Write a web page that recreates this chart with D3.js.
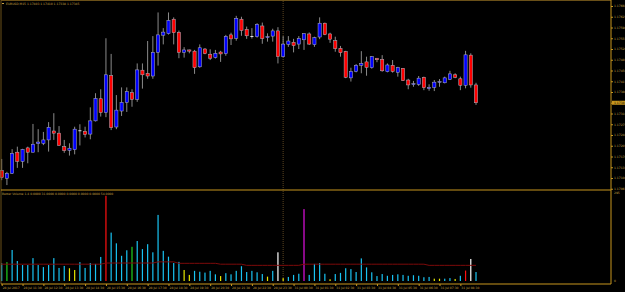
<!DOCTYPE html>
<html>
<head>
<meta charset="utf-8">
<script src="https://cdn.jsdelivr.net/npm/d3@7/dist/d3.min.js"></script>
<style>
  html, body { margin: 0; padding: 0; background: #000; overflow: hidden; }
  svg { display: block; }
  text { font-family: "DejaVu Sans", sans-serif; }
</style>
</head>
<body>
<script>
// EURUSD M15, 28 Jul 2017 10:30 -> 31 Jul 2017 08:45 (server time)
const symbol = 'EURUSD,M15';

const open = [
  1.17124, 1.17099, 1.17115, 1.17184, 1.17154, 1.17198, 1.17184, 1.17212, 1.17213, 1.17224,
  1.17253, 1.17246, 1.17202, 1.17190, 1.17192, 1.17255, 1.17252, 1.17243, 1.17286, 1.17358,
  1.17313, 1.17433, 1.17266, 1.17318, 1.17346, 1.17378, 1.17356, 1.17451, 1.17441, 1.17432,
  1.17509, 1.17565, 1.17570, 1.17617, 1.17574, 1.17509, 1.17517, 1.17513, 1.17462, 1.17520,
  1.17503, 1.17492, 1.17510, 1.17505, 1.17566, 1.17555, 1.17617, 1.17584, 1.17562, 1.17560,
  1.17595, 1.17557, 1.17562, 1.17579, 1.17495, 1.17535, 1.17542, 1.17536, 1.17550, 1.17569,
  1.17534, 1.17559, 1.17604, 1.17569, 1.17547, 1.17522, 1.17512, 1.17426, 1.17447, 1.17467,
  1.17478, 1.17459, 1.17490, 1.17486, 1.17446, 1.17467, 1.17444, 1.17457, 1.17419, 1.17404,
  1.17405, 1.17428, 1.17391, 1.17395, 1.17412, 1.17410, 1.17421, 1.17436, 1.17423, 1.17402,
  1.17500, 1.17403
];
const high = [
  1.17162, 1.17120, 1.17194, 1.17202, 1.17195, 1.17202, 1.17276, 1.17259, 1.17250, 1.17282,
  1.17311, 1.17269, 1.17224, 1.17213, 1.17267, 1.17275, 1.17267, 1.17330, 1.17376, 1.17389,
  1.17555, 1.17504, 1.17370, 1.17395, 1.17395, 1.17389, 1.17473, 1.17473, 1.17546, 1.17562,
  1.17639, 1.17588, 1.17639, 1.17623, 1.17580, 1.17526, 1.17518, 1.17517, 1.17535, 1.17523,
  1.17519, 1.17517, 1.17514, 1.17566, 1.17573, 1.17628, 1.17625, 1.17593, 1.17588, 1.17604,
  1.17606, 1.17571, 1.17586, 1.17591, 1.17562, 1.17562, 1.17553, 1.17562, 1.17571, 1.17574,
  1.17560, 1.17623, 1.17606, 1.17573, 1.17560, 1.17530, 1.17514, 1.17459, 1.17471, 1.17513,
  1.17495, 1.17497, 1.17490, 1.17500, 1.17473, 1.17484, 1.17462, 1.17458, 1.17423, 1.17416,
  1.17432, 1.17430, 1.17405, 1.17419, 1.17422, 1.17430, 1.17449, 1.17441, 1.17430, 1.17514,
  1.17506, 1.17410
];
const low = [
  1.17093, 1.17077, 1.17113, 1.17133, 1.17133, 1.17148, 1.17183, 1.17184, 1.17207, 1.17186,
  1.17224, 1.17205, 1.17182, 1.17173, 1.17177, 1.17206, 1.17232, 1.17226, 1.17284, 1.17300,
  1.17298, 1.17256, 1.17259, 1.17302, 1.17315, 1.17332, 1.17348, 1.17391, 1.17423, 1.17423,
  1.17466, 1.17535, 1.17567, 1.17535, 1.17490, 1.17492, 1.17506, 1.17439, 1.17459, 1.17503,
  1.17484, 1.17489, 1.17478, 1.17498, 1.17533, 1.17547, 1.17563, 1.17553, 1.17554, 1.17557,
  1.17537, 1.17544, 1.17544, 1.17473, 1.17493, 1.17527, 1.17509, 1.17520, 1.17517, 1.17533,
  1.17527, 1.17552, 1.17565, 1.17540, 1.17511, 1.17495, 1.17425, 1.17414, 1.17444, 1.17441,
  1.17433, 1.17456, 1.17477, 1.17446, 1.17444, 1.17443, 1.17430, 1.17416, 1.17389, 1.17397,
  1.17400, 1.17386, 1.17384, 1.17383, 1.17397, 1.17408, 1.17419, 1.17425, 1.17386, 1.17392,
  1.17394, 1.17338
];
const close = [
  1.17102, 1.17115, 1.17180, 1.17154, 1.17193, 1.17184, 1.17210, 1.17217, 1.17224, 1.17265,
  1.17246, 1.17206, 1.17189, 1.17197, 1.17259, 1.17255, 1.17242, 1.17286, 1.17359, 1.17313,
  1.17436, 1.17264, 1.17321, 1.17346, 1.17381, 1.17356, 1.17452, 1.17436, 1.17432, 1.17509,
  1.17566, 1.17575, 1.17613, 1.17573, 1.17509, 1.17517, 1.17513, 1.17459, 1.17524, 1.17505,
  1.17490, 1.17506, 1.17504, 1.17561, 1.17553, 1.17620, 1.17580, 1.17563, 1.17562, 1.17600,
  1.17554, 1.17560, 1.17579, 1.17495, 1.17536, 1.17546, 1.17531, 1.17554, 1.17570, 1.17536,
  1.17557, 1.17604, 1.17567, 1.17552, 1.17521, 1.17508, 1.17428, 1.17447, 1.17467, 1.17473,
  1.17460, 1.17495, 1.17485, 1.17449, 1.17468, 1.17447, 1.17460, 1.17417, 1.17403, 1.17407,
  1.17425, 1.17394, 1.17395, 1.17412, 1.17414, 1.17426, 1.17439, 1.17428, 1.17402, 1.17501,
  1.17403, 1.17345
];

// Better Volume 1.4: tick volume, bar class and the average line
const volume = [
  61, 65, 107, 69, 55, 55, 79, 55, 48, 55,
  79, 45, 52, 44, 38, 65, 45, 62, 59, 83,
  294, 167, 130, 87, 106, 118, 138, 110, 127, 99,
  228, 104, 84, 62, 66, 38, 21, 35, 32, 29,
  35, 23, 17, 27, 23, 35, 51, 31, 35, 30,
  24, 15, 35, 99, 10, 14, 21, 25, 248, 21,
  59, 62, 25, 6, 24, 28, 44, 41, 31, 78,
  47, 30, 17, 24, 18, 21, 23, 21, 18, 20,
  18, 13, 14, 8, 8, 8, 10, 7, 18, 36,
  76, 31
];
// b = normal, y = low volume, g = high churn, r = climax up, w = climax down, m = climax churn
const volumeType = [
  'b','g','b','b','b','b','b','b','b','b',
  'b','b','b','y','y','b','b','b','b','b',
  'r','b','b','b','b','g','b','b','b','b',
  'b','b','b','b','b','y','y','b','b','b',
  'b','b','y','b','b','b','b','b','b','b',
  'b','y','b','w','y','b','b','b','m','b',
  'b','b','b','y','b','b','b','b','b','b',
  'b','b','b','b','b','b','b','b','b','b',
  'b','b','b','y','y','b','b','y','b','r',
  'w','b'
];
const volumeAvg = [
  58, 58, 58, 58, 58, 58, 58, 58, 58, 58,
  58, 58, 58, 58, 58, 58, 58, 58, 58, 58,
  62, 62, 62, 62, 62, 62, 62, 62, 62, 62,
  66, 66, 66, 66, 61, 61, 61, 61, 61, 61,
  61, 61, 58, 58, 58, 58, 58, 54, 54, 54,
  54, 54, 54, 54, 54, 54, 54, 54, 58, 58,
  58, 58, 58, 58, 58, 58, 58, 58, 58, 58,
  58, 58, 58, 58, 58, 58, 58, 58, 58, 58,
  58, 58, 54, 54, 54, 54, 54, 54, 54, 54,
  54, 54
];

const priceTicks = [
  '1.17660', '1.17625', '1.17590', '1.17555', '1.17520', '1.17485', '1.17450', '1.17415', '1.17380',
  '1.17345', '1.17310', '1.17275', '1.17240', '1.17205', '1.17170', '1.17135', '1.17100', '1.17065'
];
const timeTickBars = [0, 4, 8, 12, 16, 20, 24, 28, 32, 36, 40, 44, 48, 52, 56, 60, 64, 68, 72, 76, 80, 84, 88];
const timeLabels = [
  '28 Jul 2017', '28 Jul 11:30', '28 Jul 12:30', '28 Jul 13:30', '28 Jul 14:30', '28 Jul 15:30',
  '28 Jul 16:30', '28 Jul 17:30', '28 Jul 18:30', '28 Jul 19:30', '28 Jul 20:30', '28 Jul 21:30',
  '28 Jul 22:30', '28 Jul 23:30', '31 Jul 00:30', '31 Jul 01:30', '31 Jul 02:30', '31 Jul 03:30',
  '31 Jul 04:30', '31 Jul 05:30', '31 Jul 06:30', '31 Jul 07:30', '31 Jul 08:30'
];
const separatorBar = 54;   // first bar of 31 Jul
const volumeTicks = ['295', '0'];

// ---- layout ----
const W = 625, H = 292;
const left = 1, right = 611;
const mainBottom = 190, subBottom = 284;
const frame = '#c8961e', frameDim = '#6a5018', label = '#c8a040';
const volColor = { b: '#19c3f2', y: '#e6e600', g: '#1ed21e', r: '#ff1010', w: '#ffffff', m: '#e010e0' };

const svg = d3.select('body').append('svg').attr('width', W).attr('height', H);
svg.append('rect').attr('width', W).attr('height', H).attr('fill', '#000');

const n = open.length;
const x = d3.scaleLinear().domain([0, n - 1]).range([1.7, 476]);
const y = d3.scaleLinear().domain([+priceTicks[priceTicks.length - 1], +priceTicks[0]]).range([188.75, 6]);
const yv = d3.scaleLinear().domain([0, +volumeTicks[0]]).range([281, 195.5]);

// period separator
svg.append('line')
  .attr('x1', x(separatorBar)).attr('x2', x(separatorBar))
  .attr('y1', 1).attr('y2', subBottom)
  .attr('stroke', '#5a4420').attr('stroke-width', 1).attr('stroke-dasharray', '1,1');

// ---- candles ----
const bars = d3.range(n);
const g = svg.append('g').attr('class', 'candles');

g.selectAll('.wick').data(bars).join('line')
  .attr('class', 'wick')
  .attr('x1', i => x(i)).attr('x2', i => x(i))
  .attr('y1', i => y(high[i])).attr('y2', i => y(low[i]))
  .attr('stroke', '#9a9a9a').attr('stroke-width', 0.9);

g.selectAll('.body').data(bars).join('rect')
  .attr('class', 'body')
  .attr('x', i => x(i) - 1.6)
  .attr('width', 3.2)
  .attr('y', i => y(Math.max(open[i], close[i])))
  .attr('height', i => Math.max(0.8, Math.abs(y(open[i]) - y(close[i]))))
  .attr('fill', i => close[i] > open[i] ? '#0000ff' : close[i] < open[i] ? '#ff0000' : '#ffffff')
  .attr('stroke', i => close[i] === open[i] ? 'none' : '#b4b4c4')
  .attr('stroke-width', 0.5);

// ---- volume ----
const vg = svg.append('g').attr('class', 'volume');
vg.selectAll('rect').data(bars).join('rect')
  .attr('x', i => x(i) - 0.6)
  .attr('width', 1.2)
  .attr('y', i => yv(volume[i]))
  .attr('height', i => yv(0) - yv(volume[i]))
  .attr('fill', i => volColor[volumeType[i]]);

vg.append('path')
  .datum(bars)
  .attr('d', d3.line().x(i => i === 0 ? left : x(i)).y(i => yv(volumeAvg[i])))
  .attr('fill', 'none').attr('stroke', '#7c0a0a').attr('stroke-width', 1);

// ---- frame ----
svg.append('line').attr('x1', left).attr('x2', right).attr('y1', 0.5).attr('y2', 0.5).attr('stroke', frameDim);
svg.append('line').attr('x1', left).attr('x2', left).attr('y1', 0).attr('y2', subBottom).attr('stroke', frameDim);
svg.append('line').attr('x1', left).attr('x2', right).attr('y1', mainBottom).attr('y2', mainBottom).attr('stroke', frame);
svg.append('line').attr('x1', left).attr('x2', right).attr('y1', subBottom).attr('y2', subBottom).attr('stroke', frame);
svg.append('line').attr('x1', right).attr('x2', right).attr('y1', 0).attr('y2', subBottom).attr('stroke', frame);

// ---- price axis ----
const priceAxis = svg.append('g')
  .attr('transform', `translate(${right},0)`)
  .call(d3.axisRight(y).tickValues(priceTicks.map(Number)).tickFormat(d3.format('.5f')).tickSize(2).tickPadding(1));
priceAxis.select('.domain').remove();
priceAxis.selectAll('line').attr('stroke', frame);
priceAxis.selectAll('text').attr('fill', label).attr('font-size', 3).attr('font-family', '"DejaVu Sans", sans-serif');

// current bid
const bid = close[n - 1];
svg.append('rect').attr('x', right + 1).attr('y', y(bid) - 2).attr('width', 13).attr('height', 4).attr('fill', frame);
svg.append('text').attr('x', right + 3).attr('y', y(bid) + 1.1).attr('font-size', 3).attr('fill', '#000')
  .text(d3.format('.5f')(bid));

// volume axis labels
svg.append('text').attr('x', right + 3).attr('y', 194).attr('font-size', 3).attr('fill', label).text(volumeTicks[0]);
svg.append('text').attr('x', right + 3).attr('y', 282).attr('font-size', 3).attr('fill', label).text(volumeTicks[1]);

// ---- time axis ----
const timeAxis = svg.append('g')
  .attr('transform', `translate(0,${subBottom})`)
  .call(d3.axisBottom(x).tickValues(timeTickBars).tickFormat((d, i) => timeLabels[i]).tickSize(2).tickPadding(1));
timeAxis.select('.domain').remove();
timeAxis.selectAll('line').attr('stroke', frame);
timeAxis.selectAll('text')
  .attr('fill', label).attr('font-size', 3).attr('text-anchor', 'start').attr('dx', 0.5)
  .attr('font-family', '"DejaVu Sans", sans-serif');

// ---- window titles ----
const f5 = d3.format('.5f');
svg.append('rect').attr('x', 2).attr('y', 3).attr('width', 2).attr('height', 1).attr('fill', label);
svg.append('text').attr('x', 6).attr('y', 5).attr('font-size', 3).attr('fill', label)
  .text(`${symbol}  ${f5(open[n - 1])} ${f5(high[n - 1])} ${f5(low[n - 1])} ${f5(close[n - 1])}`);

const f4 = d3.format('.4f');
const last = n - 1;
const buf = ['r', 'b', 'y', 'g', 'w', 'm'].map(t => volumeType[last] === t ? volume[last] : 0);
svg.append('text').attr('x', 2).attr('y', 194.5).attr('font-size', 3).attr('fill', label)
  .text(`Better Volume 1.4 ${buf.map(f4).join(' ')} ${f4(volumeAvg[last])}`);
</script>
</body>
</html>
